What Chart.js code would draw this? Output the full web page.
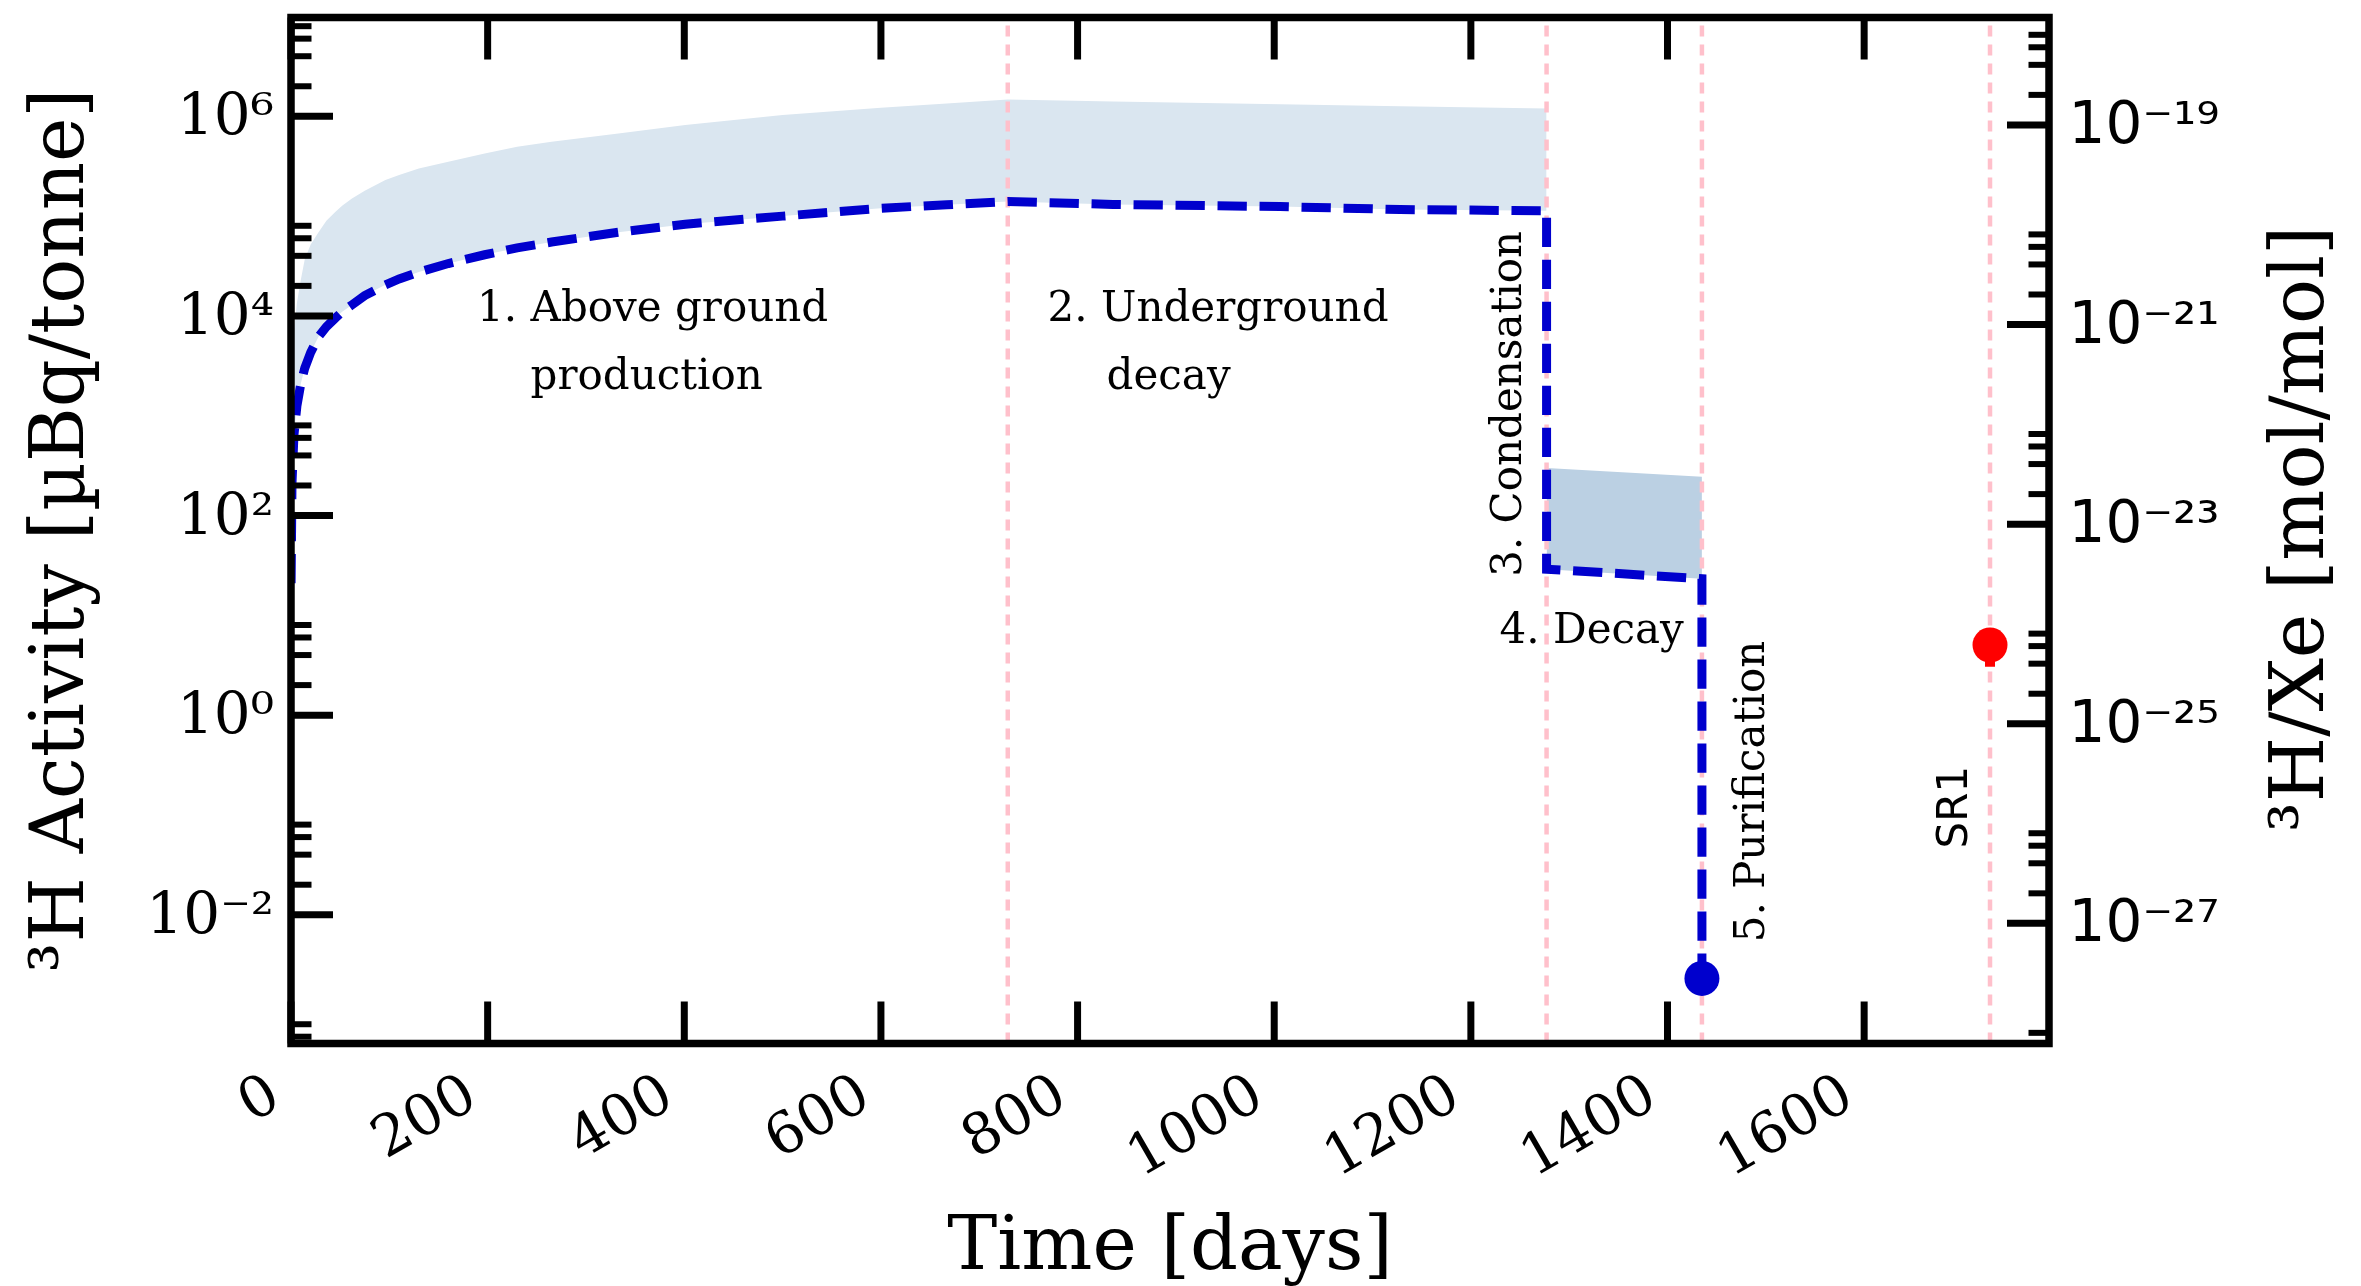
<!DOCTYPE html>
<html>
<head>
<meta charset="utf-8">
<title>Tritium activity history</title>
<script src="https://cdn.jsdelivr.net/npm/chart.js@4.4.1/dist/chart.umd.min.js"></script>
<style>
  html, body { margin: 0; padding: 0; background: #ffffff; }
  #wrap { width: 2361px; height: 1286px; }
</style>
</head>
<body>
<div id="wrap"><canvas id="chart" width="2361" height="1286"></canvas></div>
<script>
// ---- Data ---------------------------------------------------------------
// Phases 1-2: above-ground exposure, then underground storage (days)
const storageDays = [0.1, 1, 3, 6, 10, 14, 20, 28, 36, 45, 52, 62, 75, 96, 110, 130, 160, 197, 230, 265, 333, 401, 500, 600, 667, 729, 836, 1006, 1128, 1277];
// Expected 3H activity over those days [µBq/tonne]
const storageActivity = [21, 210, 640, 1250, 2100, 3000, 4300, 6200, 7800, 9500, 11000, 12900, 16000, 20500, 23500, 27500, 33500, 41000, 48000, 55000, 69000, 83000, 100000, 120000, 130000, 140000, 131000, 124500, 116500, 113000];
// Upper edge of the band [µBq/tonne]
const storageActivityHigh = [230, 2300, 7000, 13500, 23000, 37000, 52000, 69000, 90000, 110000, 127000, 150000, 180000, 230000, 258000, 300000, 350000, 425000, 495000, 556000, 673000, 817000, 1030000, 1220000, 1345000, 1470000, 1410000, 1320000, 1260000, 1200000];

// Phase 4: decay after condensation (days, µBq/tonne)
const liquidDays = [1277, 1435];
const liquidActivity = [29, 23.3];
const liquidActivityHigh = [300, 244];

// Phase 5: after purification
const purifiedDays = [1435];
const purifiedActivity = [0.0023];

// SR1 measurement with its range
const sr1Days = [1728];
const sr1Activity = [5.04];
const sr1Range = [3.05, 7.03];

// Boundaries between phases (days)
const phaseMarkerDays = [729, 1277, 1435, 1728];

// Axis ticks
const timeTicks = [0, 200, 400, 600, 800, 1000, 1200, 1400, 1600];
const activityTicks = [1e-2, 1e0, 1e2, 1e4, 1e6];
const activityTickLabels = ['10\u207B\u00B2', '10\u2070', '10\u00B2', '10\u2074', '10\u2076'];
const ratioTicks = [1e-27, 1e-25, 1e-23, 1e-21, 1e-19];
const ratioTickLabels = ['10\u207B\u00B2\u2077', '10\u207B\u00B2\u2075', '10\u207B\u00B2\u00B3', '10\u207B\u00B2\u00B9', '10\u207B\u00B9\u2079'];

// 1 µBq/tonne of tritium in xenon expressed as mol/mol
const UBQ_PER_TONNE_TO_MOL_PER_MOL = 1.22e-25;

// ---- Axis ranges ----------------------------------------------------------
const X_MIN = 0, X_MAX = 1788;
const Y_MIN = Math.pow(10, -3.29), Y_MAX = Math.pow(10, 6.99);

const SERIF = '"DejaVu Serif", "Liberation Serif", serif';
const SANS = '"DejaVu Sans", "Liberation Sans", sans-serif';

const pts = (xs, ys) => xs.map((x, i) => ({ x: x, y: ys[i] }));

// ---- Datasets -------------------------------------------------------------
const centralPath = pts(storageDays, storageActivity)
  .concat(pts(liquidDays, liquidActivity))
  .concat(pts(purifiedDays, purifiedActivity));

const hidden = { borderWidth: 0, borderColor: 'rgba(0,0,0,0)', pointRadius: 0, fill: false };

const datasets = [
  { // 0: after purification
    label: 'purified', data: pts(purifiedDays, purifiedActivity), order: 0,
    showLine: false, pointRadius: 17.5, pointBackgroundColor: '#0000cd', pointBorderWidth: 0
  },
  { // 1: SR1
    label: 'SR1', data: pts(sr1Days, sr1Activity), order: 0,
    showLine: false, pointRadius: 17.5, pointBackgroundColor: '#ff0000', pointBorderWidth: 0
  },
  { // 2: SR1 range bar
    label: 'SR1 range', data: [{ x: sr1Days[0], y: sr1Range[0] }, { x: sr1Days[0], y: sr1Range[1] }], order: 1,
    borderColor: '#ff0000', borderWidth: 10, pointRadius: 0, fill: false
  },
  { // 3: expected activity
    label: 'expected', data: centralPath, order: 2,
    borderColor: '#0000cd', borderWidth: 9, borderDash: [29.3, 12.7], borderCapStyle: 'butt',
    borderJoinStyle: 'miter', pointRadius: 0, tension: 0, fill: false
  }
];

// 4-7: phase boundaries
phaseMarkerDays.forEach(d => {
  datasets.push({
    label: 'phase ' + d, data: [{ x: d, y: Y_MIN }, { x: d, y: Y_MAX }], order: 3,
    borderColor: '#ffc0cb', borderWidth: 4.5, borderDash: [11, 8], pointRadius: 0, fill: false
  });
});

const liquidLowIndex = datasets.length;
datasets.push(Object.assign({ label: 'liquid low', data: pts(liquidDays, liquidActivity), order: 4 }, hidden));
datasets.push({
  label: 'liquid band', data: pts(liquidDays, liquidActivityHigh), order: 4,
  borderWidth: 0, borderColor: 'rgba(0,0,0,0)', pointRadius: 0,
  backgroundColor: '#bbd0e3', fill: liquidLowIndex
});

const storageLowIndex = datasets.length;
datasets.push(Object.assign({ label: 'storage low', data: pts(storageDays, storageActivity), order: 5 }, hidden));
datasets.push({
  label: 'storage band', data: pts(storageDays, storageActivityHigh), order: 5,
  borderWidth: 0, borderColor: 'rgba(0,0,0,0)', pointRadius: 0,
  backgroundColor: '#dae6f0', fill: storageLowIndex
});

// ---- Text placed inside the plot (anchored in data coordinates) ------------
const notes = [
  { text: '1. Above ground', day: 189.3, value: 8810, rotate: false, family: SERIF },
  { text: 'production', day: 243.6, value: 1841, rotate: false, family: SERIF },
  { text: '2. Underground', day: 769.5, value: 8810, rotate: false, family: SERIF },
  { text: 'decay', day: 829.5, value: 1841, rotate: false, family: SERIF },
  { text: '3. Condensation', day: 1250.8, value: 24.3, rotate: true, family: SERIF },
  { text: '4. Decay', day: 1229.2, value: 5.31, rotate: false, family: SERIF },
  { text: '5. Purification', day: 1498.1, value: 5.31e-3, rotate: true, family: SERIF },
  { text: 'SR1', day: 1704.3, value: 0.0462, rotate: true, family: SANS }
];

function minorTicks(exponents) {
  const out = [];
  exponents.forEach(e => [2, 4, 6, 8].forEach(m => out.push(m * Math.pow(10, e))));
  return out;
}
const activityMinor = minorTicks([-4, -2, 0, 2, 4, 6]);
const ratioMinor = minorTicks([-29, -27, -25, -23, -21, -19]);

// Frame, inward tick marks, annotations and the right-hand title
const decorations = {
  id: 'decorations',
  afterDatasetsDraw(chart) {
    const ctx = chart.ctx;
    const xs = chart.scales.x, ys = chart.scales.y;
    ctx.save();
    ctx.fillStyle = '#000';
    notes.forEach(n => {
      ctx.font = '42px ' + n.family;
      ctx.textAlign = 'left';
      ctx.textBaseline = 'alphabetic';
      const px = xs.getPixelForValue(n.day), py = ys.getPixelForValue(n.value);
      if (n.rotate) {
        ctx.save();
        ctx.translate(px, py);
        ctx.rotate(-Math.PI / 2);
        ctx.fillText(n.text, 0, 0);
        ctx.restore();
      } else {
        ctx.fillText(n.text, px, py);
      }
    });
    ctx.restore();
  },
  afterDraw(chart) {
    const ctx = chart.ctx;
    const a = chart.chartArea;
    const xs = chart.scales.x, ys = chart.scales.y, y2 = chart.scales.y2;
    const MAJOR = 42, MINOR = 20.5;
    ctx.save();
    ctx.strokeStyle = '#000';
    ctx.lineCap = 'butt';

    const hTicks = (scale, values, len, w) => {
      ctx.lineWidth = w;
      values.forEach(v => {
        if (v < scale.min || v > scale.max) return;
        const y = scale.getPixelForValue(v);
        ctx.beginPath();
        if (scale.position === 'left') { ctx.moveTo(a.left, y); ctx.lineTo(a.left + len, y); }
        else { ctx.moveTo(a.right, y); ctx.lineTo(a.right - len, y); }
        ctx.stroke();
      });
    };
    hTicks(ys, activityTicks, MAJOR, 7);
    hTicks(ys, activityMinor, MINOR, 6);
    hTicks(y2, ratioTicks, MAJOR, 7);
    hTicks(y2, ratioMinor, MINOR, 6);

    ctx.lineWidth = 7;
    timeTicks.forEach(v => {
      const x = xs.getPixelForValue(v);
      ctx.beginPath(); ctx.moveTo(x, a.bottom); ctx.lineTo(x, a.bottom - MAJOR); ctx.stroke();
      ctx.beginPath(); ctx.moveTo(x, a.top); ctx.lineTo(x, a.top + MAJOR); ctx.stroke();
    });

    ctx.lineWidth = 7.5;
    ctx.lineJoin = 'miter';
    ctx.strokeRect(a.left, a.top, a.right - a.left, a.bottom - a.top);

    // right-hand axis title, reading upwards
    ctx.fillStyle = '#000';
    ctx.font = '75px ' + SERIF;
    ctx.textAlign = 'center';
    ctx.textBaseline = 'alphabetic';
    ctx.translate(a.right + 274, (a.top + a.bottom) / 2 - 1.5);
    ctx.rotate(-Math.PI / 2);
    ctx.fillText('\u00B3H/Xe [mol/mol]', 0, 0);
    ctx.restore();
  }
};

const noGrid = { display: false, drawTicks: false };

// Fixed axis boxes so the plot area sits at a set place on the canvas
const fixBox = (w, h) => s => {
  if (w !== null) s.width = w;
  if (h !== null) s.height = h;
  s.paddingTop = 0; s.paddingBottom = 0; s.paddingLeft = 0; s.paddingRight = 0;
};

new Chart(document.getElementById('chart'), {
  type: 'line',
  data: { datasets: datasets },
  options: {
    responsive: false,
    devicePixelRatio: 1,
    animation: false,
    events: [],
    layout: { padding: { top: 15.5, left: 0, right: 0, bottom: 0 } },
    plugins: { legend: { display: false }, tooltip: { enabled: false } },
    scales: {
      x: {
        type: 'linear', position: 'bottom', min: X_MIN, max: X_MAX, bounds: 'data',
        grid: noGrid, border: { display: false },
        afterBuildTicks: s => { s.ticks = timeTicks.map(v => ({ value: v })); },
        ticks: {
          autoSkip: false, minRotation: 30, maxRotation: 30, padding: 19, labelOffset: -15, color: '#000',
          font: { family: SERIF, size: 57 },
          callback: v => String(v)
        },
        title: {
          display: true, text: 'Time [days]', color: '#000',
          font: { family: SERIF, size: 75, lineHeight: 1 },
          padding: { top: 0, bottom: -1.5 }
        },
        afterFit: fixBox(null, 242.5)
      },
      y: {
        type: 'logarithmic', position: 'left', min: Y_MIN, max: Y_MAX, bounds: 'data',
        grid: noGrid, border: { display: false },
        afterBuildTicks: s => { s.ticks = activityTicks.map(v => ({ value: v })); },
        ticks: {
          autoSkip: false, padding: 17, labelOffset: 3, color: '#000',
          font: { family: SERIF, size: 58 },
          callback: (v, i) => activityTickLabels[i]
        },
        title: {
          display: true, text: '\u00B3H Activity [\u00B5Bq/tonne]', color: '#000',
          font: { family: SERIF, size: 75, lineHeight: 1 },
          padding: { top: 25.8, bottom: 0 }
        },
        afterFit: fixBox(291, null)
      },
      y2: {
        type: 'logarithmic', position: 'right',
        min: Y_MIN * UBQ_PER_TONNE_TO_MOL_PER_MOL, max: Y_MAX * UBQ_PER_TONNE_TO_MOL_PER_MOL, bounds: 'data',
        grid: noGrid, border: { display: false },
        afterBuildTicks: s => { s.ticks = ratioTicks.map(v => ({ value: v })); },
        ticks: {
          autoSkip: false, padding: 19.6, labelOffset: 3, color: '#000',
          font: { family: SANS, size: 58 },
          callback: (v, i) => ratioTickLabels[i]
        },
        afterFit: fixBox(312, null)
      }
    }
  },
  plugins: [decorations]
});
</script>
</body>
</html>
